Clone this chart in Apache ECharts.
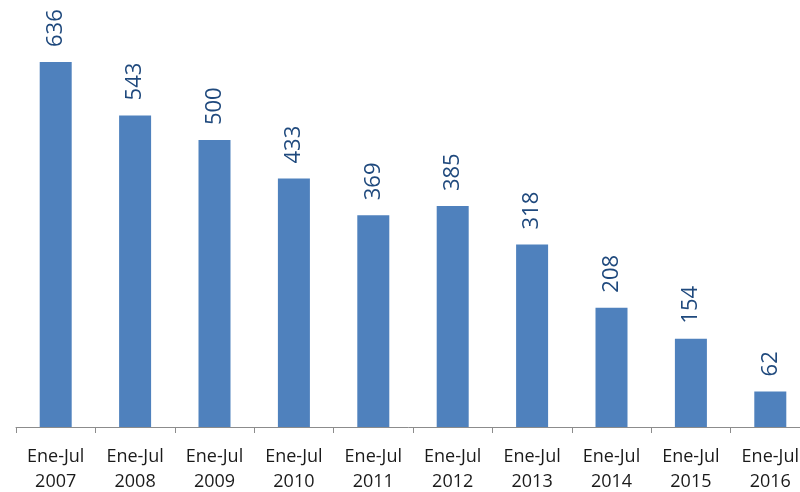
<!DOCTYPE html>
<html>
<head>
<meta charset="utf-8">
<script src="https://cdn.jsdelivr.net/npm/echarts@6/dist/echarts.min.js"></script>
<style>
html,body{margin:0;padding:0;background:#fff;}
#chart{width:800px;height:492px;}
</style>
</head>
<body>
<div id="chart"></div>
<script>
var categories = ['Ene-Jul\n2007','Ene-Jul\n2008','Ene-Jul\n2009','Ene-Jul\n2010','Ene-Jul\n2011','Ene-Jul\n2012','Ene-Jul\n2013','Ene-Jul\n2014','Ene-Jul\n2015','Ene-Jul\n2016'];
var values = [636, 543, 500, 433, 369, 385, 318, 208, 154, 62];

var chart = echarts.init(document.getElementById('chart'), null, {renderer: 'canvas'});
chart.setOption({
  animation: false,
  backgroundColor: '#ffffff',
  grid: {left: 16, top: 25.3, width: 794, height: 401.7, containLabel: false, outerBoundsMode: 'none'},
  xAxis: {
    type: 'category',
    data: categories,
    axisLine: {show: true, lineStyle: {color: '#8c8c8c', width: 1}},
    axisTick: {show: true, length: 6, alignWithLabel: false, lineStyle: {color: '#8c8c8c'}},
    axisLabel: {interval: 0, color: '#1a1a1a', fontFamily: 'Open Sans', fontSize: 18, lineHeight: 25, margin: 17, hideOverlap: false}
  },
  yAxis: {
    type: 'value', min: 0, max: 700, show: false,
    splitLine: {show: false}
  },
  series: [{
    type: 'bar',
    data: values,
    barWidth: 32,
    itemStyle: {color: '#4f81bd'},
    label: {
      show: true,
      position: 'top',
      rotate: 90,
      align: 'left',
      verticalAlign: 'middle',
      distance: 15,
      color: '#1f497d',
      fontFamily: 'Open Sans',
      fontSize: 22
    }
  }]
});
</script>
</body>
</html>
